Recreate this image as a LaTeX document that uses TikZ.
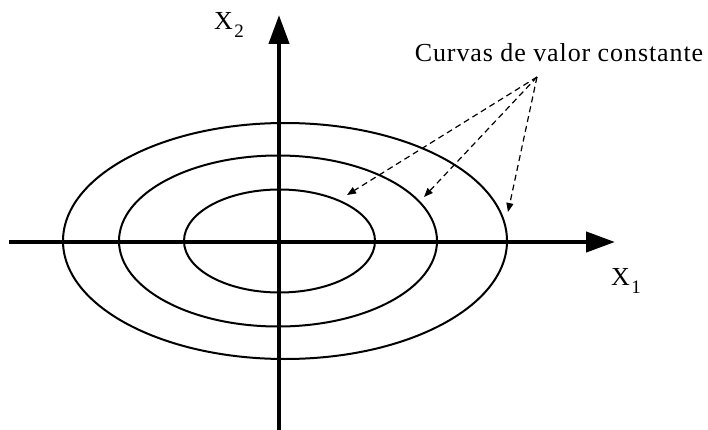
\documentclass[tikz,border=0pt]{standalone}
\usepackage{fontspec}
\setmainfont{Liberation Serif}
\newfontfamily\spacedserif[LetterSpace=3.5]{Liberation Serif}
\usetikzlibrary{arrows.meta}
\tikzset{
  axis/.style={line width=4.3pt, -{Triangle[length=29pt,width=20pt]}},
  curve/.style={line width=2pt},
  pointer/.style={line width=1.2pt, dash pattern=on 6pt off 4pt, -{Triangle[length=9pt,width=7pt]}, shorten >=0pt},
  lbl/.style={font=\fontsize{26}{28}\selectfont, inner sep=0pt},
}
\newcommand{\subs}[1]{\kern1.5pt\raisebox{-8pt}{\fontsize{19}{20}\selectfont #1}}
\begin{document}
\begin{tikzpicture}[x=1pt,y=-1pt]
\useasboundingbox (0,0) rectangle (708,430);
% contour curves
\draw[curve] (285,241) ellipse [x radius=222, y radius=118];
\draw[curve] (278,241) ellipse [x radius=159, y radius=85.5];
\draw[curve] (279.5,241) ellipse [x radius=95.5, y radius=51.5];
% axes
\coordinate (xs) at (9,242);
\coordinate (xe) at (615,242);
\coordinate (ys) at (279,432);
\coordinate (ye) at (279,15);
\draw[axis] (xs) -- (xe);
\draw[axis] (ys) -- (ye);
% labels
\node[lbl, anchor=base west] (x2) at (214,30) {X\subs{2}};
\node[lbl, anchor=base west] (x1) at (611,285) {X\subs{1}};
\node[lbl, anchor=base, font=\spacedserif\fontsize{26}{28}\selectfont] (title) at (559,62) {Curvas de valor constante};
% pointers
\coordinate (apex) at (537,77);
\coordinate (p1) at (347,195);
\coordinate (p2) at (424,197);
\coordinate (p3) at (508,212);
\draw[pointer] (apex) -- (p1);
\draw[pointer] (apex) -- (p2);
\draw[pointer] (apex) -- (p3);
\end{tikzpicture}
\end{document}
